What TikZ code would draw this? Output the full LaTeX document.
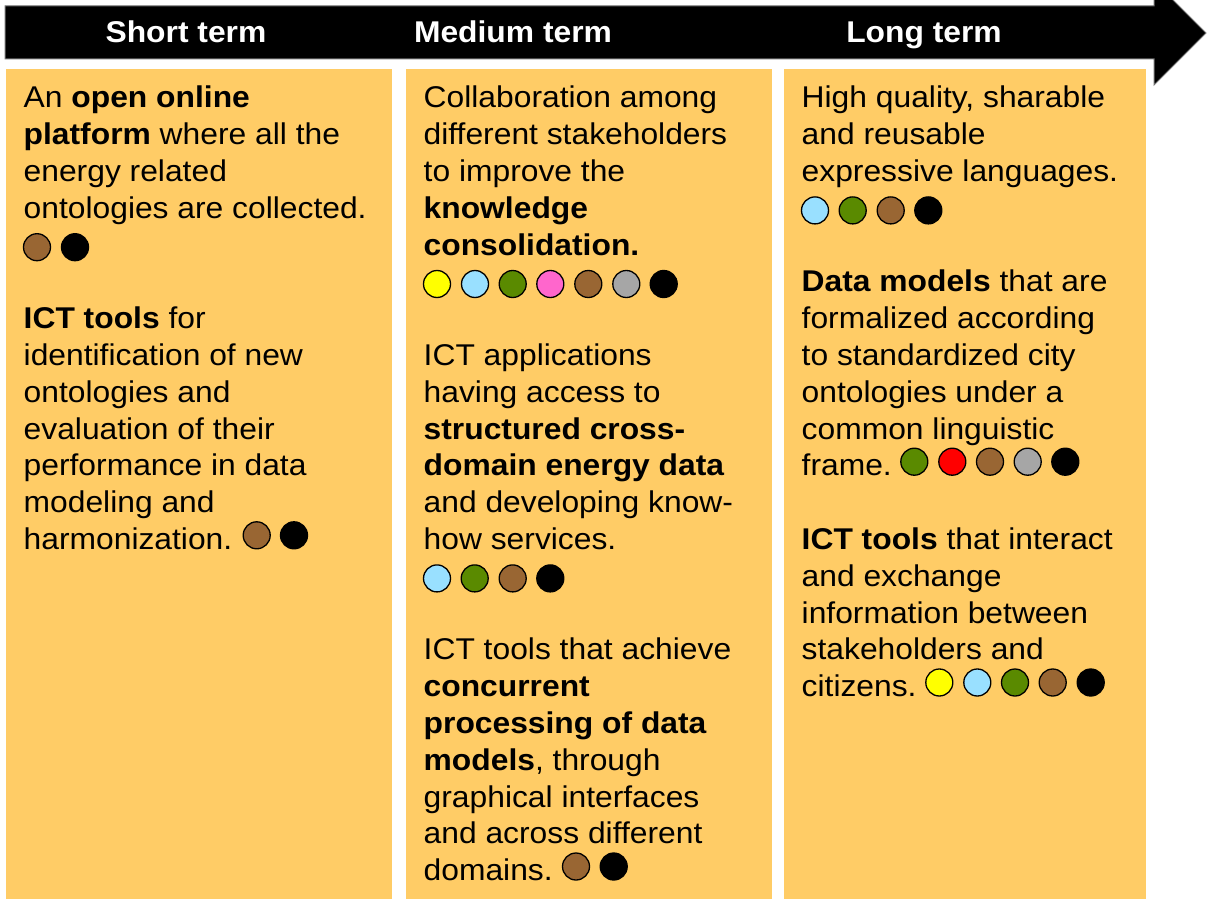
\documentclass[tikz,border=0pt]{standalone}
\usepackage{fontspec}
\setmainfont{Liberation Sans}[FakeStretch=1.06]
\definecolor{boxbg}{HTML}{FFCC66}
\definecolor{cyel}{HTML}{FFFF00}
\definecolor{cblu}{HTML}{99E0FF}
\definecolor{cgrn}{HTML}{5A8A00}
\definecolor{cpnk}{HTML}{FF66CC}
\definecolor{cbrn}{HTML}{996633}
\definecolor{cgry}{HTML}{A6A6A6}
\definecolor{cred}{HTML}{FF0000}
\definecolor{cblk}{HTML}{000000}
\begin{document}
\begin{tikzpicture}[x=1pt,y=-1pt,
  every node/.style={inner sep=0pt},
  para/.style={anchor=north west, align=left, font=\fontsize{30}{36.8}\selectfont, text=black},
  head/.style={anchor=base, font=\fontsize{30}{36}\selectfont\bfseries, text=white},
  panel/.style={fill=boxbg, draw=none},
  cdot/.style={draw=black, line width=1.3pt},
  timeline/.style={fill=black, draw=black!55, line width=1pt}]
\useasboundingbox (0,0) rectangle (1207,899);

% timeline arrow
\draw[timeline] (5,6) -- (1154,6) -- (1154,-19) -- (1206,33) -- (1154,85) -- (1154,59) -- (5,59) -- cycle;
\node[head] (hs) at (186,43) {Short term};
\node[head] (hm) at (513,43) {Medium term};
\node[head] (hl) at (924,43) {Long term};

% panels
\fill[panel] (6,69) rectangle (392,899);
\fill[panel] (406,69) rectangle (772,899);
\fill[panel] (784,69) rectangle (1146,899);

% left column
\node[para] (p1) at (23.5,82.7) {\rule{0pt}{25pt}An \textbf{open online}\\\textbf{platform} where all the\\energy related\\ontologies are collected.};
\foreach \x/\c in {37/cbrn,75/cblk} \draw[cdot,fill=\c] (\x,247.2) circle (13.5);
\node[para] (p2) at (23.5,303.5) {\rule{0pt}{25pt}\textbf{ICT tools} for\\identification of new\\ontologies and\\evaluation of their\\performance in data\\modeling and\\harmonization.};
\foreach \x/\c in {256.7/cbrn,294/cblk} \draw[cdot,fill=\c] (\x,535.3) circle (13.5);

% middle column
\node[para] (p3) at (423.5,82.7) {\rule{0pt}{25pt}Collaboration among\\different stakeholders\\to improve the\\\textbf{knowledge}\\\textbf{consolidation.}};
\foreach \x/\c in {437/cyel,475/cblu,512.7/cgrn,550.3/cpnk,588.3/cbrn,626.3/cgry,663.7/cblk} \draw[cdot,fill=\c] (\x,284) circle (13.5);
\node[para] (p4) at (423.5,340.3) {\rule{0pt}{25pt}ICT applications\\having access to\\\textbf{structured cross-}\\\textbf{domain energy data}\\and developing know-\\how services.};
\foreach \x/\c in {437/cblu,474.7/cgrn,512.7/cbrn,550.3/cblk} \draw[cdot,fill=\c] (\x,578.4) circle (13.5);
\node[para] (p5) at (423.5,634.7) {\rule{0pt}{25pt}ICT tools that achieve\\\textbf{concurrent}\\\textbf{processing of data}\\\textbf{models}, through\\graphical interfaces\\and across different\\domains.};
\foreach \x/\c in {576/cbrn,613.7/cblk} \draw[cdot,fill=\c] (\x,866.5) circle (13.5);

% right column
\node[para] (p6) at (801.5,82.7) {\rule{0pt}{25pt}High quality, sharable\\and reusable\\expressive languages.};
\foreach \x/\c in {815/cblu,852.7/cgrn,890.7/cbrn,928.3/cblk} \draw[cdot,fill=\c] (\x,210.4) circle (13.5);
\node[para] (p7) at (801.5,266.7) {\rule{0pt}{25pt}\textbf{Data models} that are\\formalized according\\to standardized city\\ontologies under a\\common linguistic\\frame.};
\foreach \x/\c in {914.3/cgrn,952.3/cred,990/cbrn,1027.7/cgry,1065.3/cblk} \draw[cdot,fill=\c] (\x,461.7) circle (13.5);
\node[para] (p8) at (801.5,524.3) {\rule{0pt}{25pt}\textbf{ICT tools} that interact\\and exchange\\information between\\stakeholders and\\citizens.};
\foreach \x/\c in {939.3/cyel,977.3/cblu,1015/cgrn,1052.7/cbrn,1090.7/cblk} \draw[cdot,fill=\c] (\x,682.5) circle (13.5);
\end{tikzpicture}
\end{document}
